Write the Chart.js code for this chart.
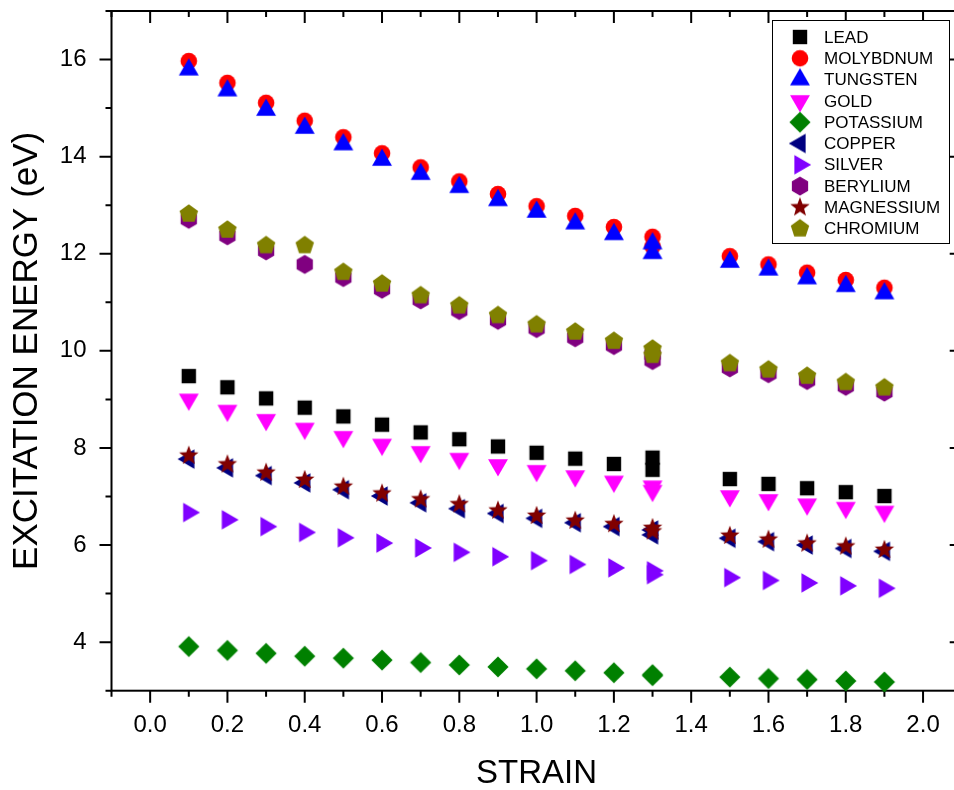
<!DOCTYPE html>
<html><head><meta charset="utf-8">
<script src="https://cdn.jsdelivr.net/npm/chart.js@4/dist/chart.umd.min.js"></script>
<style>
html,body{margin:0;padding:0;background:#fff;overflow:hidden;width:954px;height:790px;}
#wrap{position:absolute;left:0;top:0;width:975px;height:790px;}
</style></head><body><div id="wrap"><canvas id="c"></canvas></div>
<script>
// ---- data ----
const strain = [0.1,0.2,0.3,0.4,0.5,0.6,0.7,0.8,0.9,1.0,1.1,1.2,1.3,1.3,1.5,1.6,1.7,1.8,1.9];
const lead       = [9.48,9.25,9.02,8.83,8.65,8.48,8.32,8.18,8.03,7.90,7.78,7.67,7.80,7.55,7.36,7.26,7.17,7.09,7.01];
const molybdnum  = [15.97,15.52,15.11,14.74,14.40,14.07,13.78,13.49,13.23,12.98,12.78,12.55,12.35,12.15,11.95,11.78,11.61,11.46,11.30];
const tungsten   = [15.79,15.36,14.96,14.59,14.25,13.93,13.64,13.37,13.10,12.86,12.62,12.40,12.21,12.01,11.83,11.67,11.49,11.33,11.18];
const gold       = [9.00,8.77,8.58,8.40,8.23,8.07,7.92,7.78,7.65,7.53,7.42,7.31,7.21,7.12,7.01,6.93,6.84,6.77,6.69];
const potassium  = [3.91,3.83,3.77,3.71,3.67,3.63,3.58,3.53,3.49,3.45,3.41,3.37,3.33,3.31,3.28,3.25,3.23,3.20,3.18];
const copper     = [7.77,7.59,7.43,7.28,7.14,7.01,6.87,6.75,6.65,6.55,6.46,6.38,6.31,6.21,6.14,6.07,6.00,5.93,5.87];
const silver     = [6.67,6.52,6.38,6.26,6.15,6.04,5.94,5.85,5.76,5.68,5.60,5.53,5.47,5.39,5.33,5.27,5.22,5.16,5.11];
const berylium   = [12.71,12.37,12.06,11.78,11.51,11.27,11.05,10.83,10.63,10.46,10.27,10.11,9.92,9.80,9.65,9.53,9.39,9.27,9.15];
const magnessium = [7.84,7.66,7.49,7.34,7.20,7.06,6.94,6.84,6.71,6.60,6.50,6.43,6.35,6.28,6.19,6.11,6.03,5.97,5.90];
const chromium   = [12.82,12.49,12.17,12.17,11.62,11.38,11.14,10.93,10.73,10.54,10.39,10.20,10.04,9.91,9.74,9.61,9.48,9.35,9.24];

const seriesNames = ['LEAD','MOLYBDNUM','TUNGSTEN','GOLD','POTASSIUM','COPPER','SILVER','BERYLIUM','MAGNESSIUM','CHROMIUM'];
const seriesValues = [lead, molybdnum, tungsten, gold, potassium, copper, silver, berylium, magnessium, chromium];

const xMajorTicks = [0.0,0.2,0.4,0.6,0.8,1.0,1.2,1.4,1.6,1.8,2.0];
const xMinorTicks = [-0.1,0.1,0.3,0.5,0.7,0.9,1.1,1.3,1.5,1.7,1.9,2.1];
const yMajorTicks = [4,6,8,10,12,14,16];
const yMinorTicks = [3,5,7,9,11,13,15,17];

// ---- styles ----
const colors = ['#000000','#FF0000','#0000FF','#FF00FF','#008000','#000080','#8000FF','#800080','#800000','#808000'];
const shapes = ['square','circle','up','down','diamond','left','right','hexagon','star','pentagon'];

function makeMarker(shape, color){
  const S = 26, c = S/2;
  const cv = document.createElement('canvas');
  cv.width = S; cv.height = S;
  const g = cv.getContext('2d');
  g.fillStyle = color;
  g.beginPath();
  const poly = (R, n, start) => {
    for (let k=0;k<n;k++){
      const t = (start + k*360/n)*Math.PI/180;
      const px = c + R*Math.cos(t), py = c + R*Math.sin(t);
      if (k===0) g.moveTo(px,py); else g.lineTo(px,py);
    }
    g.closePath();
  };
  switch(shape){
    case 'square': g.rect(c-7.2,c-7.2,14.4,14.4); break;
    case 'circle': g.arc(c,c,8.3,0,Math.PI*2); break;
    case 'up': poly(11.5,3,-90); break;
    case 'down': poly(11.5,3,90); break;
    case 'left': poly(11.2,3,180); break;
    case 'right': poly(11.2,3,0); break;
    case 'diamond': poly(10.6,4,-90); break;
    case 'hexagon': poly(9.4,6,-90); break;
    case 'pentagon': poly(9.7,5,-90); break;
    case 'star': {
      for (let k=0;k<10;k++){
        const R = (k%2===0)?10.2:4.3;
        const t = (-90 + k*36)*Math.PI/180;
        const px = c + R*Math.cos(t), py = c + R*Math.sin(t);
        if (k===0) g.moveTo(px,py); else g.lineTo(px,py);
      }
      g.closePath();
      break;
    }
  }
  g.fill();
  return cv;
}
const markers = shapes.map((s,i)=>makeMarker(s, colors[i]));

const datasets = seriesNames.map((name,i)=>({
  label: name,
  data: strain.map((x,j)=>({x:x, y:seriesValues[i][j]})),
  pointStyle: markers[i],
  pointRadius: 10,
  pointHoverRadius: 10,
  backgroundColor: colors[i],
  borderColor: colors[i],
  showLine: false,
  order: 10 - i,
  clip: false
}));

const framePlugin = {
  id: 'frame',
  beforeDatasetsDraw(chart){
    const {ctx, chartArea:{left,top,right,bottom}, scales:{x,y}} = chart;
    ctx.save();
    ctx.strokeStyle = '#000';
    ctx.lineWidth = 2;
    ctx.strokeRect(left, top, right-left, bottom-top);
    ctx.beginPath();
    const maj = 12, min = 6;
    xMajorTicks.forEach(v=>{ const p = x.getPixelForValue(v);
      ctx.moveTo(p,bottom); ctx.lineTo(p,bottom+maj);
      ctx.moveTo(p,top); ctx.lineTo(p,top+maj); });
    xMinorTicks.forEach(v=>{ const p = x.getPixelForValue(v);
      ctx.moveTo(p,bottom); ctx.lineTo(p,bottom+min);
      ctx.moveTo(p,top); ctx.lineTo(p,top+min); });
    yMajorTicks.forEach(v=>{ const p = y.getPixelForValue(v);
      ctx.moveTo(left,p); ctx.lineTo(left-maj,p);
      ctx.moveTo(right,p); ctx.lineTo(right-maj,p); });
    yMinorTicks.forEach(v=>{ const p = y.getPixelForValue(v);
      ctx.moveTo(left,p); ctx.lineTo(left-min,p);
      ctx.moveTo(right,p); ctx.lineTo(right-min,p); });
    ctx.stroke();
    ctx.restore();
  }
};

const legendPlugin = {
  id: 'boxLegend',
  afterDatasetsDraw(chart){
    const ctx = chart.ctx;
    const bx = 772, by = 20, bw = 177, bh = 223;
    ctx.save();
    ctx.fillStyle = '#fff';
    ctx.fillRect(bx,by,bw,bh);
    ctx.strokeStyle = '#000';
    ctx.lineWidth = 1;
    ctx.strokeRect(bx+0.5,by+0.5,bw,bh);
    ctx.font = '17px "Liberation Sans", Arial, sans-serif';
    ctx.textBaseline = 'middle';
    ctx.textAlign = 'left';
    seriesNames.forEach((name,i)=>{
      const yy = 37 + i*21.3;
      const m = markers[i];
      ctx.drawImage(m, 800 - m.width/2, yy - m.height/2);
      ctx.fillStyle = '#000';
      ctx.fillText(name, 824, yy+1);
    });
    ctx.restore();
  }
};

const tickFont = {family:'"Liberation Sans", Arial, sans-serif', size:24};

new Chart(document.getElementById('c'), {
  type: 'scatter',
  data: {datasets},
  plugins: [framePlugin, legendPlugin],
  options: {
    responsive: true,
    maintainAspectRatio: false,
    animation: false,
    events: [],
    layout: {autoPadding: false, padding: {left:0, top:11, right:13.3, bottom:0}},
    plugins: {legend:{display:false}, tooltip:{enabled:false}},
    scales: {
      x: {
        type: 'linear', min: -0.1, max: 2.1,
        afterBuildTicks: s => { s.ticks = xMajorTicks.map(v=>({value:v})); },
        afterFit: s => { s.height = 99.3; s.paddingLeft = 0; s.paddingRight = 0; s.paddingTop = 0; s.paddingBottom = 0; },
        grid: {display:false, drawTicks:false},
        border: {display:false},
        ticks: {color:'#000', font: tickFont, padding: 20, maxRotation:0, autoSkip:false,
                callback: v => Number(v).toFixed(1)},
        title: {display:true, text:'STRAIN', color:'#000',
                font:{family:'"Liberation Sans", Arial, sans-serif', size:33, lineHeight:1},
                padding:{top:0,bottom:0}}
      },
      y: {
        type: 'linear', min: 3, max: 17,
        afterBuildTicks: s => { s.ticks = yMajorTicks.map(v=>({value:v})); },
        afterFit: s => { s.width = 111.5; s.paddingLeft = 0; s.paddingRight = 0; s.paddingTop = 0; s.paddingBottom = 0; },
        grid: {display:false, drawTicks:false},
        border: {display:false},
        ticks: {color:'#000', font: tickFont, padding: 25, autoSkip:false},
        title: {display:true, text:'EXCITATION ENERGY (eV)', color:'#000',
                font:{family:'"Liberation Sans", Arial, sans-serif', size:35, lineHeight:1},
                padding:{top:10,bottom:0}}
      }
    }
  }
});
</script></body></html>
